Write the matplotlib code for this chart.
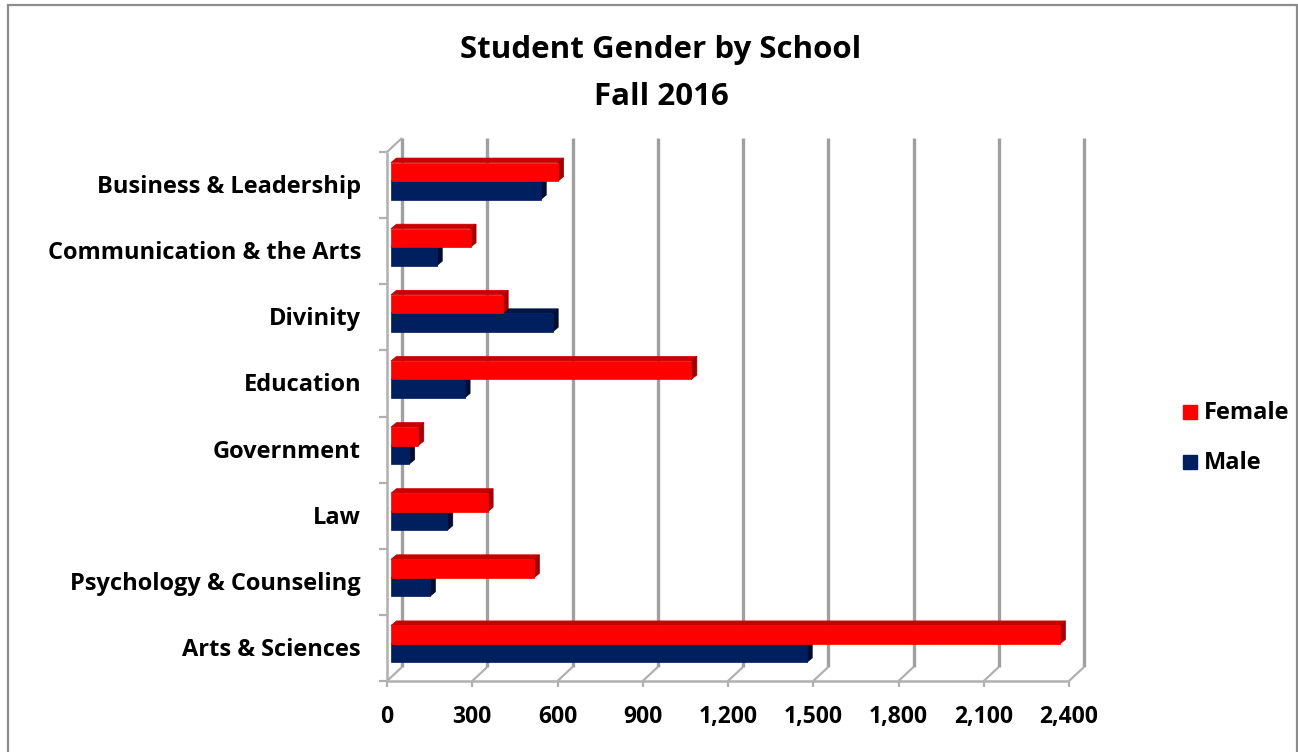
import matplotlib
matplotlib.use("Agg")
import matplotlib.pyplot as plt
from matplotlib.patches import Polygon, Rectangle
from matplotlib.lines import Line2D
from matplotlib.transforms import IdentityTransform
import numpy as np

schools = ["Business & Leadership", "Communication & the Arts", "Divinity",
           "Education", "Government", "Law", "Psychology & Counseling",
           "Arts & Sciences"]
female = [588, 280, 393, 1057, 96, 340, 503, 2354]
male = [527, 161, 569, 259, 64, 198, 137, 1463]
xticks = [0, 300, 600, 900, 1200, 1500, 1800, 2100, 2400]
xticklabels = ["0", "300", "600", "900", "1,200", "1,500", "1,800", "2,100", "2,400"]
title_lines = ["Student Gender by School", "Fall 2016"]
legend_labels = ["Female", "Male"]

FONT = "Open Sans"
RED, RED_TOP, RED_SIDE = "#ff0000", "#c80000", "#a00000"
NAVY, NAVY_TOP, NAVY_SIDE = "#001f5f", "#001446", "#000c30"
GRID = "#a0a0a0"

W, H = 1298, 752
fig = plt.figure(figsize=(W / 100, H / 100), dpi=100)
fig.patch.set_facecolor("white")

# axes placed on the front plane
x0, x1 = 387, 1069
ytop, ybot = 152, 681
ax = fig.add_axes([x0 / W, (H - ybot) / H, (x1 - x0) / W, (ybot - ytop) / H])
ax.set_xlim(0, 2400)
n = len(schools)
ax.set_ylim(n - 0.5, -0.5)
ax.axis("off")

T = ax.transData
BACK = np.array([15.0, 14.0])    # front -> back wall offset (pixels, y up)
BARP = np.array([4.0, 4.0])      # front -> bar front face offset
DEPTH = np.array([5.5, 4.5])     # bar depth

def d(x, y):
    return np.array(T.transform((x, y)))

def poly(pts, color, z):
    p = Polygon(np.array(pts), closed=True, facecolor=color, edgecolor=color,
                linewidth=0.5, transform=IdentityTransform(), zorder=z, clip_on=False)
    ax.add_patch(p)

def line(pts, color=GRID, lw=2.2, z=1):
    pts = np.array(pts)
    ax.add_line(Line2D(pts[:, 0], pts[:, 1], color=color, linewidth=lw,
                       transform=IdentityTransform(), zorder=z, clip_on=False,
                       solid_capstyle="butt"))

yb_front = -0.5
yf_front = n - 0.5
# back wall gridlines, floor lines, ticks
for v in xticks:
    a = d(v, yf_front) + BACK
    b = d(v, yb_front) + BACK
    line([a, b], GRID, 2.4, 1)
    f = d(v, yf_front)
    line([f, f + BACK], "#b0b0b0", 1.6, 1)
    line([f, f + np.array([0, -6])], "#b0b0b0", 1.6, 1)
line([d(0, yf_front), d(2400, yf_front)], "#b0b0b0", 1.8, 1)
line([d(0, yf_front), d(0, yb_front)], "#b0b0b0", 1.8, 1)
line([d(0, yb_front), d(0, yb_front) + BACK], "#b0b0b0", 1.6, 1)
for k in range(n + 1):
    p = d(0, k - 0.5)
    line([p + np.array([-8, 0]), p], "#b0b0b0", 1.6, 1)

# bars
bh = 0.28
def bar3d(val, ytop_d, ybot_d, front, top, side, z):
    tl = d(0, ytop_d) + BARP
    tr = d(val, ytop_d) + BARP
    bl = d(0, ybot_d) + BARP
    br = d(val, ybot_d) + BARP
    poly([tl, tr, tr + DEPTH, tl + DEPTH], top, z)
    poly([tr, br, br + DEPTH, tr + DEPTH], side, z)
    poly([tl, tr, br, bl], front, z + 0.1)

for i in range(n):
    bar3d(male[i], i, i + bh, NAVY, NAVY_TOP, NAVY_SIDE, 3)
for i in range(n):
    bar3d(female[i], i - bh, i, RED, RED_TOP, RED_SIDE, 4)

# category labels
for i, s in enumerate(schools):
    p = d(0, i)
    fig.text(361 / W, (p[1] - 2) / H, s, ha="right", va="center",
             fontsize=17, fontweight="bold", family=FONT, color="black")

# x tick labels
for v, lab in zip(xticks, xticklabels):
    p = d(v, yf_front)
    fig.text(p[0] / W, (H - 717) / H, lab, ha="center", va="center",
             fontsize=16.5, fontweight="bold", family=FONT, color="black")

# title
for tl, yc in zip(title_lines, [50, 97]):
    fig.text(661 / W, (H - yc) / H, tl, ha="center", va="center",
             fontsize=22.5, fontweight="bold", family=FONT, color="black")

# legend
for lab, col, yc in zip(legend_labels, [RED, NAVY], [412, 462]):
    fig.patches.append(Rectangle((1183 / W, (H - yc - 7) / H), 14 / W, 14 / H,
                                 transform=fig.transFigure, facecolor=col,
                                 edgecolor=col, figure=fig))
    fig.text(1204 / W, (H - yc - 1) / H, lab, ha="left", va="center",
             fontsize=17, fontweight="bold", family=FONT, color="black")

# outer border
fig.patches.append(Rectangle((7.5 / W, -0.1), (1296.5 - 7.5) / W, (H - 4.5) / H + 0.1,
                             transform=fig.transFigure, facecolor="none",
                             edgecolor="#8c8c8c", linewidth=1.6, figure=fig))

fig.savefig("out.png", dpi=100, facecolor="white")
